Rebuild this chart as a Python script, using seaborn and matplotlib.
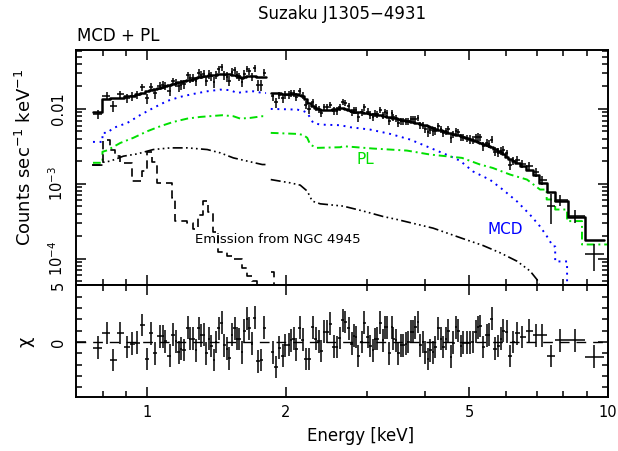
import numpy as np
import matplotlib
matplotlib.use("Agg")
import matplotlib.pyplot as plt
from matplotlib.ticker import FixedLocator, FixedFormatter, NullFormatter
import seaborn as sns

# ---------------- data: segment 1 (0.76-1.81 keV) ----------------
energy1 = [0.780, 0.818, 0.843, 0.874, 0.904, 0.927, 0.950, 0.974, 0.999, 1.020,
           1.041, 1.063, 1.082, 1.094, 1.118, 1.137, 1.156, 1.169, 1.185, 1.199,
           1.223, 1.240, 1.256, 1.277, 1.292, 1.308, 1.325, 1.343, 1.361, 1.377,
           1.393, 1.409, 1.428, 1.452, 1.469, 1.489, 1.506, 1.526, 1.546, 1.565,
           1.583, 1.605, 1.623, 1.646, 1.665, 1.687, 1.709, 1.739, 1.765, 1.794]
rate1 = [0.00853, 0.0150, 0.0109, 0.0157, 0.0138, 0.0148, 0.0155, 0.0195, 0.0138, 0.0197,
         0.0161, 0.0203, 0.0210, 0.0204, 0.0176, 0.0234, 0.0223, 0.0200, 0.0211, 0.0215,
         0.0284, 0.0257, 0.0261, 0.0234, 0.0304, 0.0288, 0.0294, 0.0239, 0.0291, 0.0271,
         0.0228, 0.0288, 0.0339, 0.0358, 0.0282, 0.0270, 0.0238, 0.0312, 0.0328, 0.0286,
         0.0272, 0.0229, 0.0297, 0.0343, 0.0318, 0.0270, 0.0347, 0.0208, 0.0208, 0.0306]
err1 = [0.00119, 0.00177, 0.00179, 0.00185, 0.00191, 0.00196, 0.00203, 0.00212, 0.00222, 0.00233,
        0.00241, 0.00248, 0.00256, 0.00264, 0.00272, 0.00281, 0.00289, 0.00294, 0.00298, 0.00307,
        0.00317, 0.00321, 0.00326, 0.00337, 0.00342, 0.00347, 0.00352, 0.00358, 0.00364, 0.00369,
        0.00374, 0.00374, 0.00381, 0.00381, 0.00381, 0.00381, 0.00381, 0.00374, 0.00369, 0.00358,
        0.00342, 0.00337, 0.00342, 0.00352, 0.00358, 0.00358, 0.00352, 0.00347, 0.00342, 0.00342]
model1 = [0.00912, 0.0136, 0.0138, 0.0142, 0.0147, 0.0151, 0.0156, 0.0163, 0.0171, 0.0179,
          0.0185, 0.0191, 0.0197, 0.0203, 0.0209, 0.0216, 0.0222, 0.0226, 0.0229, 0.0236,
          0.0244, 0.0247, 0.0251, 0.0259, 0.0263, 0.0267, 0.0271, 0.0275, 0.0280, 0.0284,
          0.0288, 0.0288, 0.0293, 0.0293, 0.0293, 0.0293, 0.0293, 0.0288, 0.0284, 0.0275,
          0.0263, 0.0259, 0.0263, 0.0271, 0.0275, 0.0275, 0.0271, 0.0267, 0.0263, 0.0263]
chi1 = [-0.5, 0.8, -1.6, 0.8, -0.45, -0.15, -0.05, 1.5, -1.5, 0.75,
        -1.0, 0.5, 0.5, 0.05, -1.2, 0.65, 0.05, -0.9, -0.6, -0.7,
        1.25, 0.3, 0.3, -0.75, 1.2, 0.6, 0.65, -1.0, 0.3, -0.35,
        -1.6, 0.0, 1.2, 1.7, -0.3, -0.6, -1.45, 0.65, 1.2, 0.3,
        0.25, -0.9, 1.0, 2.05, 1.2, -0.15, 2.15, -1.7, -1.6, 1.25]

# ---------------- data: segment 2 (1.85-9.8 keV) ----------------
energy2 = [1.870, 1.901, 1.933, 1.966, 1.992, 2.025, 2.050, 2.077, 2.105, 2.140,
           2.173, 2.210, 2.243, 2.288, 2.323, 2.353, 2.381, 2.421, 2.454, 2.495,
           2.536, 2.579, 2.614, 2.658, 2.689, 2.734, 2.780, 2.812, 2.840, 2.873,
           2.922, 2.960, 3.006, 3.046, 3.087, 3.123, 3.159, 3.202, 3.245, 3.283,
           3.321, 3.354, 3.395, 3.422, 3.468, 3.508, 3.550, 3.597, 3.646, 3.688,
           3.733, 3.771, 3.814, 3.866, 3.911, 3.963, 4.009, 4.064, 4.111, 4.167,
           4.215, 4.285, 4.336, 4.392, 4.452, 4.504, 4.558, 4.617, 4.680, 4.734,
           4.798, 4.854, 4.937, 5.019, 5.087, 5.164, 5.216, 5.276, 5.364, 5.456,
           5.519, 5.593, 5.686, 5.781, 5.860, 5.928, 6.029, 6.130, 6.232, 6.358,
           6.517, 6.750, 6.970, 7.203, 7.510, 7.868, 8.480, 9.325]
rate2 = [0.0147, 0.0122, 0.0152, 0.0138, 0.0154, 0.0155, 0.0162, 0.0164, 0.0145, 0.0175,
         0.0150, 0.0114, 0.0100, 0.0123, 0.0105, 0.00990, 0.00884, 0.0105, 0.0105, 0.0114,
         0.00942, 0.00951, 0.0105, 0.0123, 0.0119, 0.0108, 0.00911, 0.00967, 0.00957, 0.00774,
         0.00898, 0.0105, 0.00919, 0.00830, 0.00787, 0.00868, 0.00859, 0.00972, 0.00820, 0.00908,
         0.00894, 0.00690, 0.00876, 0.00784, 0.00759, 0.00655, 0.00689, 0.00680, 0.00681, 0.00681,
         0.00737, 0.00726, 0.00744, 0.00764, 0.00610, 0.00612, 0.00543, 0.00488, 0.00520, 0.00503,
         0.00514, 0.00594, 0.00534, 0.00476, 0.00509, 0.00532, 0.00404, 0.00455, 0.00514, 0.00492,
         0.00420, 0.00421, 0.00409, 0.00395, 0.00386, 0.00418, 0.00424, 0.00416, 0.00321, 0.00351,
         0.00343, 0.00389, 0.00270, 0.00262, 0.00277, 0.00284, 0.00256, 0.00180, 0.00203, 0.00210,
         0.00184, 0.00174, 0.00143, 0.00112, 0.000507, 0.000610, 0.000374, 0.000114]
err2 = [0.00179, 0.00177, 0.00177, 0.00174, 0.00175, 0.00175, 0.00175, 0.00175, 0.00172, 0.00169,
        0.00162, 0.00150, 0.00132, 0.00119, 0.00112, 0.00108, 0.00107, 0.00105, 0.00105, 0.00107,
        0.00108, 0.00110, 0.00112, 0.00112, 0.00110, 0.00105, 0.00102, 0.00100, 0.00100, 0.000988,
        0.000988, 0.000974, 0.000964, 0.000949, 0.000944, 0.000930, 0.000915, 0.000901, 0.000888, 0.000873,
        0.000860, 0.000853, 0.000843, 0.000835, 0.000822, 0.000810, 0.000784, 0.000773, 0.000761, 0.000749,
        0.000738, 0.000727, 0.000716, 0.000705, 0.000694, 0.000673, 0.000663, 0.000642, 0.000624, 0.000614,
        0.000595, 0.000578, 0.000569, 0.000551, 0.000542, 0.000527, 0.000518, 0.000503, 0.000495, 0.000487,
        0.000481, 0.000465, 0.000452, 0.000517, 0.000502, 0.000486, 0.000472, 0.000458, 0.000443, 0.000424,
        0.000411, 0.000399, 0.000381, 0.000358, 0.000347, 0.000326, 0.000298, 0.000280, 0.000264, 0.000248,
        0.000226, 0.000200, 0.000185, 0.000155, 0.000220, 0.000110, 0.000070, 0.000045]
model2 = [0.0163, 0.0161, 0.0161, 0.01585, 0.0159, 0.0159, 0.0159, 0.0159, 0.0156, 0.0154,
          0.0147, 0.0136, 0.0120, 0.0108, 0.01015, 0.00985, 0.0097, 0.00955, 0.00955, 0.0097,
          0.00985, 0.0100, 0.01015, 0.01015, 0.0100, 0.00955, 0.00926, 0.00912, 0.00912, 0.00898,
          0.00898, 0.00885, 0.00876, 0.00863, 0.00858, 0.00845, 0.00832, 0.00819, 0.00807, 0.00794,
          0.00782, 0.00775, 0.00766, 0.00759, 0.00747, 0.00736, 0.00713, 0.00703, 0.00692, 0.00681,
          0.00671, 0.00661, 0.00651, 0.00641, 0.00631, 0.00612, 0.00603, 0.00584, 0.00567, 0.00558,
          0.00541, 0.00525, 0.00517, 0.00501, 0.00493, 0.00479, 0.00471, 0.00457, 0.00450, 0.00443,
          0.00437, 0.00423, 0.00411, 0.00398, 0.00386, 0.00374, 0.00363, 0.00352, 0.00341, 0.00326,
          0.00316, 0.00307, 0.00293, 0.00275, 0.00267, 0.00251, 0.00229, 0.00215, 0.00203, 0.00191,
          0.00174, 0.00154, 0.00132, 0.00103, 0.000782, 0.000593, 0.000363, 0.000179]
chi2 = [-0.9, -2.2, -0.5, -1.2, -0.3, -0.25, 0.15, 0.3, -0.65, 1.25,
        0.2, -1.5, -1.5, 1.3, 0.3, 0.05, -0.8, 0.9, 0.9, 1.6,
        -0.4, -0.45, 0.35, 1.9, 1.75, 1.2, -0.15, 0.55, 0.45, -1.25,
        0.0, 1.7, 0.45, -0.35, -0.75, 0.25, 0.3, 1.7, 0.15, 1.3,
        1.3, -1.0, 1.3, 0.3, 0.15, -1.0, -0.3, -0.3, -0.15, 0.0,
        0.9, 0.9, 1.3, 1.75, -0.3, 0.0, -0.9, -1.5, -0.75, -0.9,
        -0.45, 1.2, 0.3, -0.45, 0.3, 1.0, -1.3, -0.05, 1.3, 1.0,
        -0.35, -0.05, -0.05, -0.05, 0.0, 0.9, 1.3, 1.4, -0.45, 0.6,
        0.65, 2.05, -0.6, -0.35, 0.3, 1.0, 0.9, -1.25, 0.0, 0.75,
        0.45, 1.0, 0.6, 0.6, -1.25, 0.15, 0.15, -1.3]

# ---------------- model components (energy, value; repeated energies = bin steps) ----------------
mcd_e1 = [0.762, 0.799, 0.799, 0.818, 0.844, 0.874, 0.905, 0.966, 1.030, 1.105,
          1.179, 1.258, 1.349, 1.440, 1.514, 1.567, 1.615, 1.698, 1.784, 1.810]
mcd_v1 = [0.00363, 0.00363, 0.00479, 0.00479, 0.00558, 0.00603, 0.00651, 0.00832, 0.0103, 0.0128,
          0.0145, 0.01585, 0.0172, 0.0181, 0.0178, 0.0163, 0.0169, 0.0172, 0.0163, 0.0163]
mcd_e2 = [1.853, 1.993, 2.115, 2.180, 2.224, 2.257, 2.291, 2.373, 2.623, 2.756,
          3.046, 3.366, 3.720, 4.111, 4.543, 4.775, 5.096, 5.546, 5.918, 6.348,
          6.774, 7.119, 7.373, 7.598, 7.680, 7.680, 8.150, 8.150, 9.95]
mcd_v2 = [0.0100, 0.0099, 0.00979, 0.0094, 0.00885, 0.00759, 0.00651, 0.00618, 0.00606, 0.00570,
          0.00530, 0.00464, 0.00390, 0.00302, 0.00234, 0.00203, 0.00146, 0.00113, 0.000832, 0.000581,
          0.000386, 0.000270, 0.000198, 0.000146, 0.000146, 0.0000920, 0.0000920, 0.00002, 0.00002]

pl_e1 = [0.762, 0.799, 0.799, 0.818, 0.874, 0.932, 1.000, 1.067, 1.139, 1.221,
         1.303, 1.391, 1.454, 1.537, 1.591, 1.673, 1.776, 1.810]
pl_v1 = [0.00191, 0.00191, 0.00268, 0.00280, 0.00352, 0.00411, 0.00504, 0.00588, 0.00671, 0.00743,
         0.00782, 0.00807, 0.00824, 0.00799, 0.00743, 0.00759, 0.00799, 0.00799]
pl_e2 = [1.853, 2.115, 2.180, 2.224, 2.257, 2.330, 2.623, 2.662, 3.087, 3.660,
         4.111, 4.820, 5.276, 5.620, 6.130, 6.670, 7.119, 7.360, 7.360, 7.680,
         7.680, 8.150, 8.150, 8.780, 8.780, 9.95]
pl_v2 = [0.00479, 0.00464, 0.00450, 0.00411, 0.00334, 0.00302, 0.00308, 0.00318, 0.00296, 0.00278,
         0.00246, 0.00222, 0.00181, 0.00163, 0.00133, 0.00114, 0.000839, 0.000839, 0.000618, 0.000618,
         0.000454, 0.000454, 0.000318, 0.000318, 0.000155, 0.000155]

# NGC 4945 emission: continuum-like component
ngcc_e1 = [0.760, 0.803, 0.803, 0.831, 0.887, 0.951, 1.030, 1.122, 1.221, 1.349,
           1.440, 1.537, 1.648, 1.776, 1.812]
ngcc_v1 = [0.00178, 0.00178, 0.00195, 0.00201, 0.00234, 0.00251, 0.00287, 0.00302, 0.00302, 0.00287,
           0.00259, 0.00222, 0.00201, 0.00181, 0.00181]
ngcc_e2 = [1.853, 2.043, 2.147, 2.224, 2.280, 2.373, 2.662, 2.942, 3.251, 3.485,
           4.173, 4.849, 5.357, 5.833, 6.348, 6.774, 7.015, 7.300, 9.95]
ngcc_v2 = [0.00114, 0.00103, 0.000961, 0.000799, 0.000588, 0.000541, 0.000504, 0.000433, 0.000366, 0.000334,
           0.000256, 0.000185, 0.000150, 0.000120, 0.0000926, 0.0000686, 0.0000525, 0.00003, 0.00003]

# NGC 4945 emission: line-rich thermal component (bin edges, last value repeated)
ngct_e1 = [0.760, 0.803, 0.831, 0.852, 0.874, 0.928, 0.975, 1.000, 1.025, 1.051,
           1.133, 1.150, 1.221, 1.258, 1.290, 1.323, 1.356, 1.391, 1.426, 1.491,
           1.529, 1.607, 1.648, 1.690, 1.732, 1.812]
ngct_v1 = [0.00181, 0.00386, 0.00284, 0.00236, 0.00191, 0.00108, 0.00149, 0.00267, 0.00197, 0.00103,
           0.00065, 0.000316, 0.000302, 0.000251, 0.000386, 0.000593, 0.000423, 0.000229, 0.000124, 0.000110,
           0.0000985, 0.0000759, 0.0000593, 0.0000509, 0.00003, 0.00003]
ngct_e2 = [1.853, 1.886, 9.95]
ngct_v2 = [0.0000671, 0.00003, 0.00003]

xticks_major = [1, 2, 5, 10]
xtick_labels = ["1", "2", "5", "10"]
xticks_minor = [0.8, 0.9, 3, 4, 6, 7, 8, 9]
yticks_major = [1e-4, 1e-3, 1e-2]
ytick_labels = ["$10^{-4}$", "$10^{-3}$", "0.01"]
yticks_minor = [5e-5, 6e-5, 7e-5, 8e-5, 9e-5,
                2e-4, 3e-4, 4e-4, 5e-4, 6e-4, 7e-4, 8e-4, 9e-4,
                2e-3, 3e-3, 4e-3, 5e-3, 6e-3, 7e-3, 8e-3, 9e-3,
                2e-2, 3e-2, 4e-2, 5e-2, 6e-2]
rticks_major = [0, 5]
rtick_labels = ["0", "5"]
rticks_minor = [-4, -3, -2, -1, 1, 2, 3, 4]

# ---------------- style ----------------
sns.set_theme(style="ticks")
plt.rcParams["font.family"] = ["DejaVu Sans"]
plt.rcParams["mathtext.default"] = "regular"
plt.rcParams["axes.linewidth"] = 1.4
plt.rcParams["text.color"] = "black"
plt.rcParams["axes.labelcolor"] = "black"
plt.rcParams["xtick.color"] = "black"
plt.rcParams["ytick.color"] = "black"

BLUE = "#0000ff"
GREEN = "#00e000"


def bin_edges(e):
    e = np.asarray(e, dtype=float)
    mid = np.sqrt(e[1:] * e[:-1])
    return np.concatenate([[e[0] ** 2 / mid[0]], mid, [e[-1] ** 2 / mid[-1]]])


fig = plt.figure(figsize=(6.18, 4.51), dpi=100)
W, H = 618.0, 451.0
ax = fig.add_axes([76 / W, 1 - 285 / H, 532 / W, 235 / H])
ax2 = fig.add_axes([76 / W, 1 - 397 / H, 532 / W, 112 / H], sharex=ax)

ax.set_xscale("log")
ax.set_yscale("log")
ax.set_xlim(0.7, 10)
ax.set_ylim(4.46e-5, 0.0612)
ax2.set_ylim(-4.85, 5.02)

# components
for e, v in [(mcd_e1, mcd_v1), (mcd_e2, mcd_v2)]:
    sns.lineplot(x=e, y=v, ax=ax, color=BLUE, lw=1.4, linestyle=(0, (1, 2.4)),
                 estimator=None, sort=False)
for e, v in [(pl_e1, pl_v1), (pl_e2, pl_v2)]:
    sns.lineplot(x=e, y=v, ax=ax, color=GREEN, lw=1.4, linestyle=(0, (4, 2, 1, 2)),
                 estimator=None, sort=False)
for e, v in [(ngcc_e1, ngcc_v1), (ngcc_e2, ngcc_v2)]:
    sns.lineplot(x=e, y=v, ax=ax, color="black", lw=1.2,
                 linestyle=(0, (6, 2, 1, 2, 1, 2, 1, 2)),
                 estimator=None, sort=False)
for e, v in [(ngct_e1, ngct_v1), (ngct_e2, ngct_v2)]:
    sns.lineplot(x=e, y=v, ax=ax, color="black", lw=1.2, linestyle=(0, (5, 3)),
                 drawstyle="steps-post", estimator=None, sort=False)

# data, model and residuals
for e, r, er, m, c in [(energy1, rate1, err1, model1, chi1),
                       (energy2, rate2, err2, model2, chi2)]:
    e = np.asarray(e)
    ed = bin_edges(e)
    xerr = [e - ed[:-1], ed[1:] - e]
    ax.errorbar(e, r, yerr=er, xerr=xerr, fmt="none", ecolor="black",
                elinewidth=1.1, capsize=0)
    sns.lineplot(x=ed, y=np.append(m, m[-1]), ax=ax, color="black", lw=1.8,
                 drawstyle="steps-post", estimator=None, sort=False)
    ax2.errorbar(e, c, yerr=1.0, xerr=xerr, fmt="none", ecolor="black",
                 elinewidth=1.1, capsize=0)

ax2.axhline(0, color="black", lw=1.0, linestyle=(0, (7, 5)), zorder=0)

# annotations
ax.text(2.97, 0.00209, "PL", color=GREEN, fontsize=11, ha="center", va="center")
ax.text(5.98, 2.44e-4, "MCD", color=BLUE, fontsize=11, ha="center", va="center")
ax.text(1.271, 1.79e-4, "Emission from NGC 4945", color="black", fontsize=9.5,
        ha="left", va="center")

fig.text(342 / W, 1 - 14 / H, "Suzaku J1305\u22124931", fontsize=12,
         ha="center", va="center", color="black")
fig.text(77 / W, 1 - 36 / H, "MCD + PL", fontsize=12, ha="left", va="center",
         color="black")

# ticks
for a in (ax, ax2):
    a.tick_params(which="both", direction="in", top=True, right=True,
                  width=1.1, colors="black", labelsize=10.5)
    a.tick_params(which="major", length=7)
    a.tick_params(which="minor", length=4)
    for s in a.spines.values():
        s.set_linewidth(1.4)
        s.set_color("black")

ax2.xaxis.set_major_locator(FixedLocator(xticks_major))
ax2.xaxis.set_major_formatter(FixedFormatter(xtick_labels))
ax2.xaxis.set_minor_locator(FixedLocator(xticks_minor))
ax2.xaxis.set_minor_formatter(NullFormatter())
ax2.tick_params(axis="x", which="major", pad=6)
ax.tick_params(axis="x", which="both", labelbottom=False)

ax.yaxis.set_major_locator(FixedLocator(yticks_major))
ax.yaxis.set_major_formatter(FixedFormatter(ytick_labels))
ax.yaxis.set_minor_locator(FixedLocator(yticks_minor))
ax.yaxis.set_minor_formatter(NullFormatter())
ax.tick_params(axis="y", which="major", pad=7)
for lab in ax.get_yticklabels():
    lab.set_rotation(90)
    lab.set_va("center")

ax2.yaxis.set_major_locator(FixedLocator(rticks_major))
ax2.yaxis.set_major_formatter(FixedFormatter(rtick_labels))
ax2.yaxis.set_minor_locator(FixedLocator(rticks_minor))
ax2.yaxis.set_minor_formatter(NullFormatter())
ax2.tick_params(axis="y", which="major", pad=7)
for lab in ax2.get_yticklabels():
    lab.set_rotation(90)
    lab.set_va("center")

ax.set_xlabel("")
ax.set_ylabel("Counts sec$^{-1}$ keV$^{-1}$", fontsize=13, color="black")
ax.yaxis.set_label_coords(-0.078, 0.545)
ax2.set_ylabel("\u03c7", fontsize=13, rotation=90, color="black")
ax2.yaxis.set_label_coords(-0.078, 0.49)
ax2.set_xlabel("Energy [keV]", fontsize=12, color="black")
ax2.xaxis.set_label_coords(0.534, -0.27)

fig.savefig("out.png", dpi=100)
